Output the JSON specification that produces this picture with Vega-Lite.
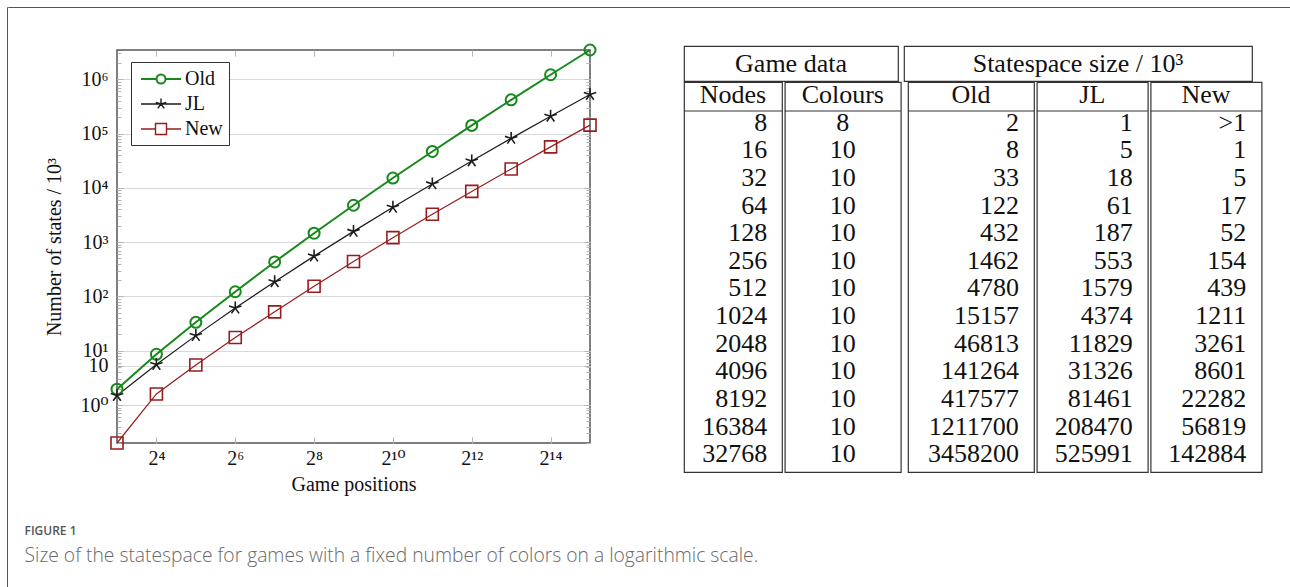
{
  "$schema": "https://vega.github.io/schema/vega-lite/v6.json",
  "padding": {"left": 6, "top": 6, "right": 0, "bottom": 0},
  "background": "white",
  "config": {"view": {"stroke": null}},
  "datasets": {
    "points": [
      {"nodes": 8, "series": "Old", "states": 1.96},
      {"nodes": 16, "series": "Old", "states": 8.6},
      {"nodes": 32, "series": "Old", "states": 33.4},
      {"nodes": 64, "series": "Old", "states": 122},
      {"nodes": 128, "series": "Old", "states": 432},
      {"nodes": 256, "series": "Old", "states": 1462},
      {"nodes": 512, "series": "Old", "states": 4780},
      {"nodes": 1024, "series": "Old", "states": 15157},
      {"nodes": 2048, "series": "Old", "states": 46813},
      {"nodes": 4096, "series": "Old", "states": 141264},
      {"nodes": 8192, "series": "Old", "states": 417577},
      {"nodes": 16384, "series": "Old", "states": 1211700},
      {"nodes": 32768, "series": "Old", "states": 3458200},
      {"nodes": 8, "series": "JL", "states": 1.5},
      {"nodes": 16, "series": "JL", "states": 5.6},
      {"nodes": 32, "series": "JL", "states": 19},
      {"nodes": 64, "series": "JL", "states": 61},
      {"nodes": 128, "series": "JL", "states": 187},
      {"nodes": 256, "series": "JL", "states": 553},
      {"nodes": 512, "series": "JL", "states": 1579},
      {"nodes": 1024, "series": "JL", "states": 4374},
      {"nodes": 2048, "series": "JL", "states": 11829},
      {"nodes": 4096, "series": "JL", "states": 31326},
      {"nodes": 8192, "series": "JL", "states": 81461},
      {"nodes": 16384, "series": "JL", "states": 208470},
      {"nodes": 32768, "series": "JL", "states": 525991},
      {"nodes": 8, "series": "New", "states": 0.2},
      {"nodes": 16, "series": "New", "states": 1.6},
      {"nodes": 32, "series": "New", "states": 5.46},
      {"nodes": 64, "series": "New", "states": 17.5},
      {"nodes": 128, "series": "New", "states": 52},
      {"nodes": 256, "series": "New", "states": 154},
      {"nodes": 512, "series": "New", "states": 439},
      {"nodes": 1024, "series": "New", "states": 1211},
      {"nodes": 2048, "series": "New", "states": 3261},
      {"nodes": 4096, "series": "New", "states": 8601},
      {"nodes": 8192, "series": "New", "states": 22282},
      {"nodes": 16384, "series": "New", "states": 56819},
      {"nodes": 32768, "series": "New", "states": 142884}
    ],
    "rows": [
      {"row": 0, "Nodes": "Nodes", "Colours": "Colours", "Old": "Old", "JL": "JL", "New": "New"},
      {"row": 1, "Nodes": "8", "Colours": "8", "Old": "2", "JL": "1", "New": ">1"},
      {"row": 2, "Nodes": "16", "Colours": "10", "Old": "8", "JL": "5", "New": "1"},
      {"row": 3, "Nodes": "32", "Colours": "10", "Old": "33", "JL": "18", "New": "5"},
      {"row": 4, "Nodes": "64", "Colours": "10", "Old": "122", "JL": "61", "New": "17"},
      {"row": 5, "Nodes": "128", "Colours": "10", "Old": "432", "JL": "187", "New": "52"},
      {"row": 6, "Nodes": "256", "Colours": "10", "Old": "1462", "JL": "553", "New": "154"},
      {"row": 7, "Nodes": "512", "Colours": "10", "Old": "4780", "JL": "1579", "New": "439"},
      {"row": 8, "Nodes": "1024", "Colours": "10", "Old": "15157", "JL": "4374", "New": "1211"},
      {"row": 9, "Nodes": "2048", "Colours": "10", "Old": "46813", "JL": "11829", "New": "3261"},
      {"row": 10, "Nodes": "4096", "Colours": "10", "Old": "141264", "JL": "31326", "New": "8601"},
      {"row": 11, "Nodes": "8192", "Colours": "10", "Old": "417577", "JL": "81461", "New": "22282"},
      {"row": 12, "Nodes": "16384", "Colours": "10", "Old": "1211700", "JL": "208470", "New": "56819"},
      {"row": 13, "Nodes": "32768", "Colours": "10", "Old": "3458200", "JL": "525991", "New": "142884"}
    ]
  },
  "bounds": "flush",
  "spacing": 0,
  "hconcat": [
    {
      "width": 0.01, "height": 580,
      "view": {"stroke": "#555555", "strokeWidth": 1},
      "data": {"values": []},
      "mark": "point"
    },
    {
      "bounds": "flush",
      "spacing": 4,
      "title": {
        "text": "FIGURE 1",
        "subtitle": "Size of the statespace for games with a fixed number of colors on a logarithmic scale.",
        "orient": "bottom", "anchor": "start", "frame": "bounds",
        "dx": 17, "offset": 31,
        "font": "Open Sans", "fontSize": 12, "fontWeight": 600, "color": "#555555",
        "subtitleFont": "Open Sans", "subtitleFontSize": 19.3, "subtitleFontWeight": 300, "subtitleColor": "#6a6a6a",
        "subtitlePadding": 9
      },
      "vconcat": [
        {
          "width": 1283, "height": 0.01,
          "view": {"stroke": "#555555", "strokeWidth": 1},
          "data": {"values": []},
          "mark": "point"
        },
        {
          "width": 1, "height": 30,
          "data": {"values": []},
          "mark": "point"
        },
        {
          "bounds": "flush",
          "spacing": 675,
          "hconcat": [
            {
              "width": 1, "height": 1,
              "data": {"values": []},
              "mark": "point"
            },
            {
              "spacing": -1.2,
              "vconcat": [
                {
                  "spacing": 4,
                  "hconcat": [
                    {
                      "width": 214, "height": 35,
                      "view": {"stroke": "#333333", "strokeWidth": 1.2},
                      "data": {"values": [{"t": "Game data"}]},
                      "mark": {"type": "text", "font": "Liberation Serif", "fontSize": 26, "color": "#111111", "baseline": "middle", "align": "center"},
                      "encoding": {"text": {"field": "t"}}
                    },
                    {
                      "width": 348, "height": 35,
                      "view": {"stroke": "#333333", "strokeWidth": 1.2},
                      "data": {"values": [{"t": "Statespace size / 10³"}]},
                      "mark": {"type": "text", "font": "Liberation Serif", "fontSize": 26, "color": "#111111", "baseline": "middle", "align": "center"},
                      "encoding": {"text": {"field": "t"}}
                    }
                  ]
                },
                {
                  "spacing": 4,
                  "hconcat": [
                    {
                      "spacing": -1.2,
                      "hconcat": [
                        {
                          "width": 98, "height": 390,
                          "view": {"stroke": "#333333", "strokeWidth": 1.2},
                          "data": {"name": "rows"},
                          "layer": [
                            {"data": {"values": [{}]}, "mark": {"type": "rule", "color": "#333333", "strokeWidth": 1.2}, "encoding": {"y": {"datum": 0.58, "type": "quantitative", "scale": {"domain": [-0.47, 13.64], "reverse": true, "nice": false, "zero": false}, "axis": null}}},
                            {"transform": [{"filter": "datum.row == 0"}], "mark": {"type": "text", "font": "Liberation Serif", "fontSize": 26, "color": "#111111", "baseline": "middle", "align": "center"}, "encoding": {"y": {"field": "row", "type": "quantitative", "axis": null}, "x": {"datum": 0.5, "type": "quantitative", "scale": {"domain": [0, 1]}, "axis": null}, "text": {"field": "Nodes"}}},
                            {"transform": [{"filter": "datum.row > 0"}], "mark": {"type": "text", "font": "Liberation Serif", "fontSize": 26, "color": "#111111", "baseline": "middle", "align": "right"}, "encoding": {"y": {"field": "row", "type": "quantitative", "axis": null}, "x": {"datum": 0.85, "type": "quantitative", "scale": {"domain": [0, 1]}, "axis": null}, "text": {"field": "Nodes"}}}
                          ]
                        },
                        {
                          "width": 116, "height": 390,
                          "view": {"stroke": "#333333", "strokeWidth": 1.2},
                          "data": {"name": "rows"},
                          "layer": [
                            {"data": {"values": [{}]}, "mark": {"type": "rule", "color": "#333333", "strokeWidth": 1.2}, "encoding": {"y": {"datum": 0.58, "type": "quantitative", "scale": {"domain": [-0.47, 13.64], "reverse": true, "nice": false, "zero": false}, "axis": null}}},
                            {"mark": {"type": "text", "font": "Liberation Serif", "fontSize": 26, "color": "#111111", "baseline": "middle", "align": "center"}, "encoding": {"y": {"field": "row", "type": "quantitative", "axis": null}, "x": {"datum": 0.5, "type": "quantitative", "scale": {"domain": [0, 1]}, "axis": null}, "text": {"field": "Colours"}}}
                          ]
                        }
                      ]
                    },
                    {
                      "spacing": -1.2,
                      "hconcat": [
                        {
                          "width": 126, "height": 390,
                          "view": {"stroke": "#333333", "strokeWidth": 1.2},
                          "data": {"name": "rows"},
                          "layer": [
                            {"data": {"values": [{}]}, "mark": {"type": "rule", "color": "#333333", "strokeWidth": 1.2}, "encoding": {"y": {"datum": 0.58, "type": "quantitative", "scale": {"domain": [-0.47, 13.64], "reverse": true, "nice": false, "zero": false}, "axis": null}}},
                            {"transform": [{"filter": "datum.row == 0"}], "mark": {"type": "text", "font": "Liberation Serif", "fontSize": 26, "color": "#111111", "baseline": "middle", "align": "center"}, "encoding": {"y": {"field": "row", "type": "quantitative", "axis": null}, "x": {"datum": 0.5, "type": "quantitative", "scale": {"domain": [0, 1]}, "axis": null}, "text": {"field": "Old"}}},
                            {"transform": [{"filter": "datum.row > 0"}], "mark": {"type": "text", "font": "Liberation Serif", "fontSize": 26, "color": "#111111", "baseline": "middle", "align": "right"}, "encoding": {"y": {"field": "row", "type": "quantitative", "axis": null}, "x": {"datum": 0.88, "type": "quantitative", "scale": {"domain": [0, 1]}, "axis": null}, "text": {"field": "Old"}}}
                          ]
                        },
                        {
                          "width": 111, "height": 390,
                          "view": {"stroke": "#333333", "strokeWidth": 1.2},
                          "data": {"name": "rows"},
                          "layer": [
                            {"data": {"values": [{}]}, "mark": {"type": "rule", "color": "#333333", "strokeWidth": 1.2}, "encoding": {"y": {"datum": 0.58, "type": "quantitative", "scale": {"domain": [-0.47, 13.64], "reverse": true, "nice": false, "zero": false}, "axis": null}}},
                            {"transform": [{"filter": "datum.row == 0"}], "mark": {"type": "text", "font": "Liberation Serif", "fontSize": 26, "color": "#111111", "baseline": "middle", "align": "center"}, "encoding": {"y": {"field": "row", "type": "quantitative", "axis": null}, "x": {"datum": 0.5, "type": "quantitative", "scale": {"domain": [0, 1]}, "axis": null}, "text": {"field": "JL"}}},
                            {"transform": [{"filter": "datum.row > 0"}], "mark": {"type": "text", "font": "Liberation Serif", "fontSize": 26, "color": "#111111", "baseline": "middle", "align": "right"}, "encoding": {"y": {"field": "row", "type": "quantitative", "axis": null}, "x": {"datum": 0.865, "type": "quantitative", "scale": {"domain": [0, 1]}, "axis": null}, "text": {"field": "JL"}}}
                          ]
                        },
                        {
                          "width": 111, "height": 390,
                          "view": {"stroke": "#333333", "strokeWidth": 1.2},
                          "data": {"name": "rows"},
                          "layer": [
                            {"data": {"values": [{}]}, "mark": {"type": "rule", "color": "#333333", "strokeWidth": 1.2}, "encoding": {"y": {"datum": 0.58, "type": "quantitative", "scale": {"domain": [-0.47, 13.64], "reverse": true, "nice": false, "zero": false}, "axis": null}}},
                            {"transform": [{"filter": "datum.row == 0"}], "mark": {"type": "text", "font": "Liberation Serif", "fontSize": 26, "color": "#111111", "baseline": "middle", "align": "center"}, "encoding": {"y": {"field": "row", "type": "quantitative", "axis": null}, "x": {"datum": 0.5, "type": "quantitative", "scale": {"domain": [0, 1]}, "axis": null}, "text": {"field": "New"}}},
                            {"transform": [{"filter": "datum.row > 0"}], "mark": {"type": "text", "font": "Liberation Serif", "fontSize": 26, "color": "#111111", "baseline": "middle", "align": "right"}, "encoding": {"y": {"field": "row", "type": "quantitative", "axis": null}, "x": {"datum": 0.862, "type": "quantitative", "scale": {"domain": [0, 1]}, "axis": null}, "text": {"field": "New"}}}
                          ]
                        }
                      ]
                    }
                  ]
                }
              ]
            }
          ]
        },
        {
          "bounds": "flush",
          "spacing": 94,
          "hconcat": [
            {
              "width": 15, "height": 1,
              "data": {"values": []},
              "mark": "point"
            },
            {
              "width": 473, "height": 393,
              "data": {"name": "points"},
              "view": {"stroke": "#555555", "strokeWidth": 1.5},
              "layer": [
                {
                  "mark": {"type": "line", "clip": false},
                  "encoding": {
                    "x": {
                      "field": "nodes", "type": "quantitative",
                      "scale": {"type": "log", "base": 2, "domain": [8, 32768], "nice": false},
                      "axis": {
                        "orient": "bottom",
                        "values": [16, 64, 256, 1024, 4096, 16384],
                        "labelExpr": "'2' + ['⁴','⁶','⁸','¹⁰','¹²','¹⁴'][indexof([16,64,256,1024,4096,16384], datum.value)]",
                        "labelFont": "Liberation Serif, DejaVu Serif", "labelFontSize": 20, "labelColor": "#111111",
                        "labelPadding": 11, "labelFlush": false, "labelOverlap": false,
                        "tickSize": -6, "tickColor": "#b5b5b5", "tickWidth": 1,
                        "domain": false, "grid": false,
                        "title": "Game positions",
                        "titleFont": "Liberation Serif", "titleFontSize": 20, "titleFontWeight": "normal", "titleColor": "#111111",
                        "titlePadding": 6
                      }
                    },
                    "y": {
                      "field": "states", "type": "quantitative",
                      "scale": {"type": "log", "domain": [0.2, 3458200], "nice": false},
                      "axis": {
                        "orient": "left",
                        "values": [0.2,0.3,0.4,0.5,0.6,0.7,0.8,0.9,1,2,3,4,5,5.3,6,7,8,9,10,20,30,40,50,60,70,80,90,100,200,300,400,500,600,700,800,900,1000,2000,3000,4000,5000,6000,7000,8000,9000,10000,20000,30000,40000,50000,60000,70000,80000,90000,100000,200000,300000,400000,500000,600000,700000,800000,900000,1000000,2000000,3000000],
                        "labelExpr": "datum.value == 5.3 ? '10' : (indexof([1,10,100,1000,10000,100000,1000000], datum.value) >= 0 ? '10' + ['⁰','¹','²','³','⁴','⁵','⁶'][indexof([1,10,100,1000,10000,100000,1000000], datum.value)] : '')",
                        "labelFont": "Liberation Serif, DejaVu Serif", "labelFontSize": 20, "labelColor": "#111111",
                        "labelPadding": 15, "labelOverlap": false, "labelFlush": false,
                        "tickSize": {"condition": {"test": "indexof([1,10,100,1000,10000,100000,1000000,5.3], datum.value) >= 0", "value": -6}, "value": -4},
                        "tickColor": "#b5b5b5", "tickWidth": 1,
                        "grid": true, "gridColor": "#d9d9d9", "gridWidth": 1.2,
                        "gridOpacity": {"condition": {"test": "indexof([1,10,100,1000,10000,100000,1000000,5.3], datum.value) >= 0", "value": 1}, "value": 0},
                        "domain": false,
                        "title": "Number of states / 10³",
                        "titleFont": "Liberation Serif", "titleFontSize": 20, "titleFontWeight": "normal", "titleColor": "#111111",
                        "titlePadding": 15
                      }
                    },
                    "color": {
                      "field": "series", "type": "nominal",
                      "scale": {"domain": ["Old", "JL", "New"], "range": ["#16891a", "#1c1c1c", "#981c1c"]},
                      "legend": null
                    },
                    "strokeWidth": {
                      "field": "series", "type": "nominal",
                      "scale": {"type": "ordinal", "domain": ["Old", "JL", "New"], "range": [2, 1.2, 1.2]},
                      "legend": null
                    }
                  }
                },
                {
                  "mark": {"type": "point", "clip": false, "filled": false, "opacity": 1},
                  "encoding": {
                    "x": {
                      "field": "nodes", "type": "quantitative",
                      "scale": {"type": "log", "base": 2, "domain": [8, 32768], "nice": false},
                      "axis": {
                        "orient": "top",
                        "values": [16, 64, 256, 1024, 4096, 16384],
                        "labels": false, "tickSize": -6, "tickColor": "#b5b5b5", "tickWidth": 1,
                        "domain": false, "grid": false, "title": null
                      }
                    },
                    "y": {
                      "field": "states", "type": "quantitative",
                      "scale": {"type": "log", "domain": [0.2, 3458200], "nice": false},
                      "axis": {
                        "orient": "right",
                        "values": [0.2,0.3,0.4,0.5,0.6,0.7,0.8,0.9,1,2,3,4,5,5.3,6,7,8,9,10,20,30,40,50,60,70,80,90,100,200,300,400,500,600,700,800,900,1000,2000,3000,4000,5000,6000,7000,8000,9000,10000,20000,30000,40000,50000,60000,70000,80000,90000,100000,200000,300000,400000,500000,600000,700000,800000,900000,1000000,2000000,3000000],
                        "labels": false,
                        "tickSize": {"condition": {"test": "indexof([1,10,100,1000,10000,100000,1000000,5.3], datum.value) >= 0", "value": -6}, "value": -4},
                        "tickColor": "#b5b5b5", "tickWidth": 1,
                        "domain": false, "grid": false, "title": null
                      }
                    },
                    "stroke": {
                      "field": "series", "type": "nominal",
                      "scale": {"domain": ["Old", "JL", "New"], "range": ["#16891a", "#1c1c1c", "#981c1c"]},
                      "legend": null
                    },
                    "shape": {
                      "field": "series", "type": "nominal",
                      "scale": {"domain": ["Old", "JL", "New"], "range": ["circle", "M0,0L0,-1M0,0L-0.951,-0.309M0,0L-0.588,0.809M0,0L0.588,0.809M0,0L0.951,-0.309", "square"]},
                      "legend": null
                    },
                    "size": {
                      "field": "series", "type": "nominal",
                      "scale": {"type": "ordinal", "domain": ["Old", "JL", "New"], "range": [121, 169, 144]},
                      "legend": null
                    },
                    "strokeWidth": {
                      "field": "series", "type": "nominal",
                      "scale": {"type": "ordinal", "domain": ["Old", "JL", "New"], "range": [2, 1.6, 1.6]},
                      "legend": null
                    }
                  }
                },
                {
                  "transform": [{"filter": "false"}],
                  "mark": {"type": "point", "clip": false, "filled": false, "opacity": 1},
                  "encoding": {
                    "x": {"field": "nodes", "type": "quantitative", "axis": null},
                    "y": {"field": "states", "type": "quantitative", "axis": null},
                    "stroke": {
                      "field": "series", "type": "nominal",
                      "scale": {"domain": ["Old", "JL", "New"], "range": ["#16891a", "#1c1c1c", "#981c1c"]},
                      "legend": {
                        "orient": "none", "legendX": 14, "legendY": 12,
                        "title": null,
                        "strokeColor": "#333333", "fillColor": "white", "padding": 6, "cornerRadius": 0,
                        "labelFont": "Liberation Serif", "labelFontSize": 20, "labelColor": "#111111",
                        "symbolSize": 400, "labelOffset": 26, "rowPadding": 4
                      }
                    },
                    "strokeWidth": {
                      "field": "series", "type": "nominal",
                      "scale": {"type": "ordinal", "domain": ["Old", "JL", "New"], "range": [2, 1.4, 1.4]},
                      "legend": {
                        "orient": "none", "legendX": 14, "legendY": 12,
                        "title": null,
                        "strokeColor": "#333333", "fillColor": "white", "padding": 6, "cornerRadius": 0,
                        "labelFont": "Liberation Serif", "labelFontSize": 20, "labelColor": "#111111",
                        "symbolSize": 400, "labelOffset": 26, "rowPadding": 4
                      }
                    },
                    "shape": {
                      "field": "series", "type": "nominal",
                      "scale": {"domain": ["Old", "JL", "New"], "range": ["M-0.7,0H0.85M1.75,0H3.3M1.75,0A0.45,0.45 0 1,1 0.85,0A0.45,0.45 0 1,1 1.75,0", "M-0.7,0H3.3M1.3,0V-0.55M1.3,0L0.777,-0.17M1.3,0L0.977,0.445M1.3,0L1.623,0.445M1.3,0L1.823,-0.17", "M-0.7,0H0.75M1.85,0H3.3M0.75,-0.55H1.85V0.55H0.75Z"]},
                      "legend": {
                        "orient": "none", "legendX": 14, "legendY": 12,
                        "title": null,
                        "strokeColor": "#333333", "fillColor": "white", "padding": 6, "cornerRadius": 0,
                        "labelFont": "Liberation Serif", "labelFontSize": 20, "labelColor": "#111111",
                        "symbolSize": 400, "labelOffset": 26, "rowPadding": 4
                      }
                    }
                  }
                }
              ],
              "resolve": {"axis": {"x": "independent", "y": "independent"}, "scale": {"strokeWidth": "independent", "shape": "independent", "stroke": "independent"}}
            }
          ]
        }
      ]
    }
  ]
}
